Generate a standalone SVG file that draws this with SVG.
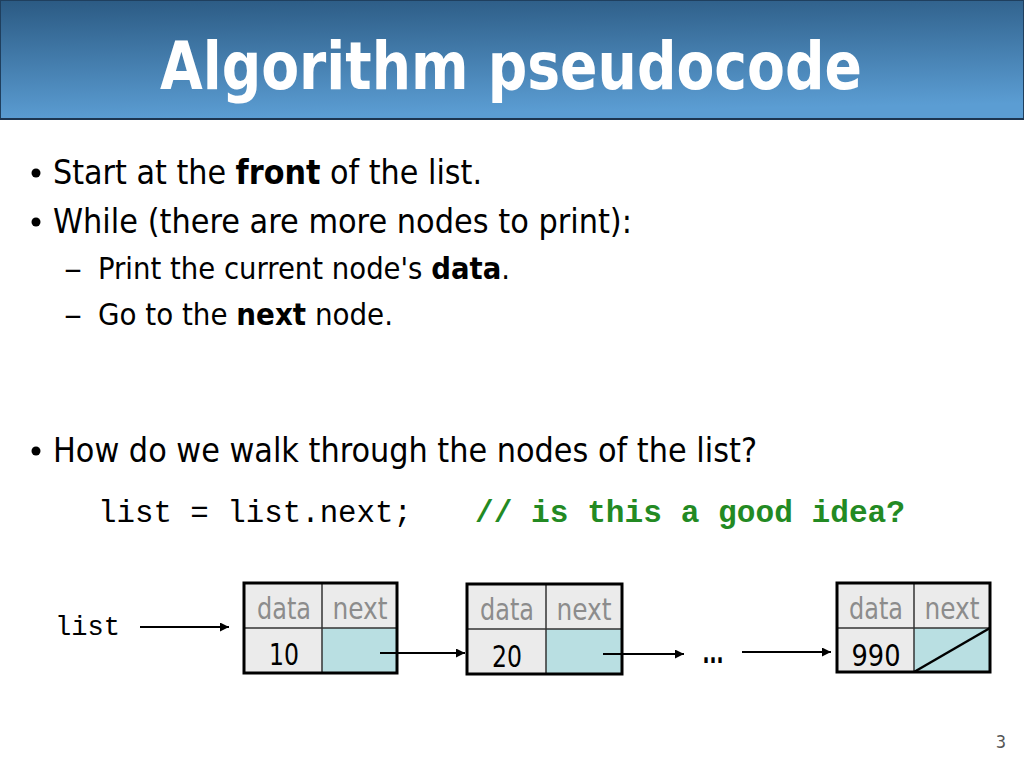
<svg xmlns="http://www.w3.org/2000/svg" width="1024" height="768" viewBox="0 0 1024 768">
<defs>
<linearGradient id="ban" x1="0" y1="0" x2="0.15" y2="1">
<stop offset="0" stop-color="#2b5a83"/>
<stop offset="1" stop-color="#5b9dd3"/>
</linearGradient>
<marker id="ah" viewBox="0 0 10 10" refX="10" refY="5" markerWidth="11" markerHeight="9" markerUnits="userSpaceOnUse" orient="auto">
<path d="M0,0 L10,5 L0,10 Z" fill="#000"/>
</marker>
<style>
.t{font-family:"DejaVu Sans Condensed","DejaVu Sans",sans-serif;fill:#000}
.b{font-weight:bold}
.m{font-family:"Liberation Mono","Courier New",monospace;fill:#000}
.cg{fill:#ebebeb}
.cb{fill:#b9dfe2}
.lab{font-family:"DejaVu Sans Condensed","DejaVu Sans",sans-serif;font-size:30px;fill:#8c8c8c;text-anchor:middle}
.val{font-family:"DejaVu Sans Condensed","DejaVu Sans",sans-serif;font-size:30px;fill:#000;text-anchor:middle}
.inner{stroke:#333;stroke-width:1.5;fill:none}
.outer{stroke:#000;stroke-width:3;fill:none}
.arr{stroke:#000;stroke-width:2;fill:none;marker-end:url(#ah)}
</style>
</defs>
<rect width="1024" height="768" fill="#fff"/>
<g id="title">
<rect x="0.5" y="0.5" width="1023" height="118" fill="url(#ban)" stroke="#1f3f5e" stroke-width="1"/>
<line x1="0" y1="119" x2="1024" y2="119" stroke="#1d3550" stroke-width="2"/>
<text x="160" y="89" class="t b" font-size="66" style="fill:#fff" textLength="702" lengthAdjust="spacingAndGlyphs">Algorithm pseudocode</text>
</g>
<g id="bullets">
<circle cx="36" cy="173" r="4.5" fill="#000"/>
<text x="53" y="184" class="t" font-size="33" textLength="429" lengthAdjust="spacingAndGlyphs">Start at the <tspan class="b">front</tspan> of the list.</text>
<circle cx="36" cy="222" r="4.5" fill="#000"/>
<text x="53" y="233" class="t" font-size="33" textLength="579" lengthAdjust="spacingAndGlyphs">While (there are more nodes to print):</text>
<text x="64" y="279" class="t" font-size="30" textLength="18" lengthAdjust="spacingAndGlyphs">–</text>
<text x="98" y="279" class="t" font-size="30" textLength="412" lengthAdjust="spacingAndGlyphs">Print the current node's <tspan class="b">data</tspan>.</text>
<text x="64" y="325" class="t" font-size="30" textLength="18" lengthAdjust="spacingAndGlyphs">–</text>
<text x="98" y="325" class="t" font-size="30" textLength="295" lengthAdjust="spacingAndGlyphs">Go to the <tspan class="b">next</tspan> node.</text>
<circle cx="36" cy="451" r="4.5" fill="#000"/>
<text x="53" y="462" class="t" font-size="33" textLength="704" lengthAdjust="spacingAndGlyphs">How do we walk through the nodes of the list?</text>
<text x="98" y="522" class="m" font-size="31" textLength="314" lengthAdjust="spacingAndGlyphs">list = list.next;</text>
<text x="475" y="522" class="m b" font-size="31" style="fill:#238a23" textLength="430" lengthAdjust="spacingAndGlyphs">// is this a good idea?</text>
</g>
<g id="list-label">
<text x="55" y="635" class="m" font-size="27" textLength="65" lengthAdjust="spacingAndGlyphs">list</text>
</g>
<g id="node1">
<rect x="244" y="583" width="78" height="45" class="cg"/>
<rect x="322" y="583" width="75" height="45" class="cg"/>
<rect x="244" y="628" width="78" height="45" class="cg"/>
<rect x="322" y="628" width="75" height="45" class="cb"/>
<line x1="322" y1="583" x2="322" y2="673" class="inner"/>
<line x1="244" y1="628" x2="397" y2="628" class="inner"/>
<rect x="244" y="583" width="153" height="90" class="outer"/>
<text x="284" y="619" class="lab" textLength="54" lengthAdjust="spacingAndGlyphs">data</text>
<text x="360" y="619" class="lab" textLength="55" lengthAdjust="spacingAndGlyphs">next</text>
<text x="284" y="665" class="val" textLength="30" lengthAdjust="spacingAndGlyphs">10</text>
</g>
<g id="node2">
<rect x="467" y="584" width="79" height="45" class="cg"/>
<rect x="546" y="584" width="76" height="45" class="cg"/>
<rect x="467" y="629" width="79" height="45" class="cg"/>
<rect x="546" y="629" width="76" height="45" class="cb"/>
<line x1="546" y1="584" x2="546" y2="674" class="inner"/>
<line x1="467" y1="629" x2="622" y2="629" class="inner"/>
<rect x="467" y="584" width="155" height="90" class="outer"/>
<text x="507" y="620" class="lab" textLength="54" lengthAdjust="spacingAndGlyphs">data</text>
<text x="584" y="620" class="lab" textLength="55" lengthAdjust="spacingAndGlyphs">next</text>
<text x="507" y="667" class="val" textLength="30" lengthAdjust="spacingAndGlyphs">20</text>
</g>
<g id="ellipsis">
<text x="713" y="663" class="val" style="font-weight:bold" textLength="21" lengthAdjust="spacingAndGlyphs">...</text>
</g>
<g id="node3">
<rect x="837" y="583" width="77" height="45" class="cg"/>
<rect x="914" y="583" width="76" height="45" class="cg"/>
<rect x="837" y="628" width="77" height="44" class="cg"/>
<rect x="914" y="628" width="76" height="44" class="cb"/>
<line x1="914" y1="583" x2="914" y2="672" class="inner"/>
<line x1="837" y1="628" x2="990" y2="628" class="inner"/>
<line x1="914" y1="672" x2="990" y2="628" stroke="#000" stroke-width="2.5"/>
<rect x="837" y="583" width="153" height="89" class="outer"/>
<text x="876" y="619" class="lab" textLength="54" lengthAdjust="spacingAndGlyphs">data</text>
<text x="952" y="619" class="lab" textLength="55" lengthAdjust="spacingAndGlyphs">next</text>
<text x="876" y="666" class="val" textLength="49" lengthAdjust="spacingAndGlyphs">990</text>
</g>
<g id="connectors">
<line x1="140" y1="627" x2="229" y2="627" class="arr"/>
<line x1="380" y1="653" x2="465" y2="653" class="arr"/>
<line x1="603" y1="654" x2="684" y2="654" class="arr"/>
<line x1="742" y1="652" x2="831" y2="652" class="arr"/>
</g>
<g id="page">
<text x="1006" y="748" class="t" font-size="18" style="fill:#555" text-anchor="end">3</text>
</g>
</svg>
